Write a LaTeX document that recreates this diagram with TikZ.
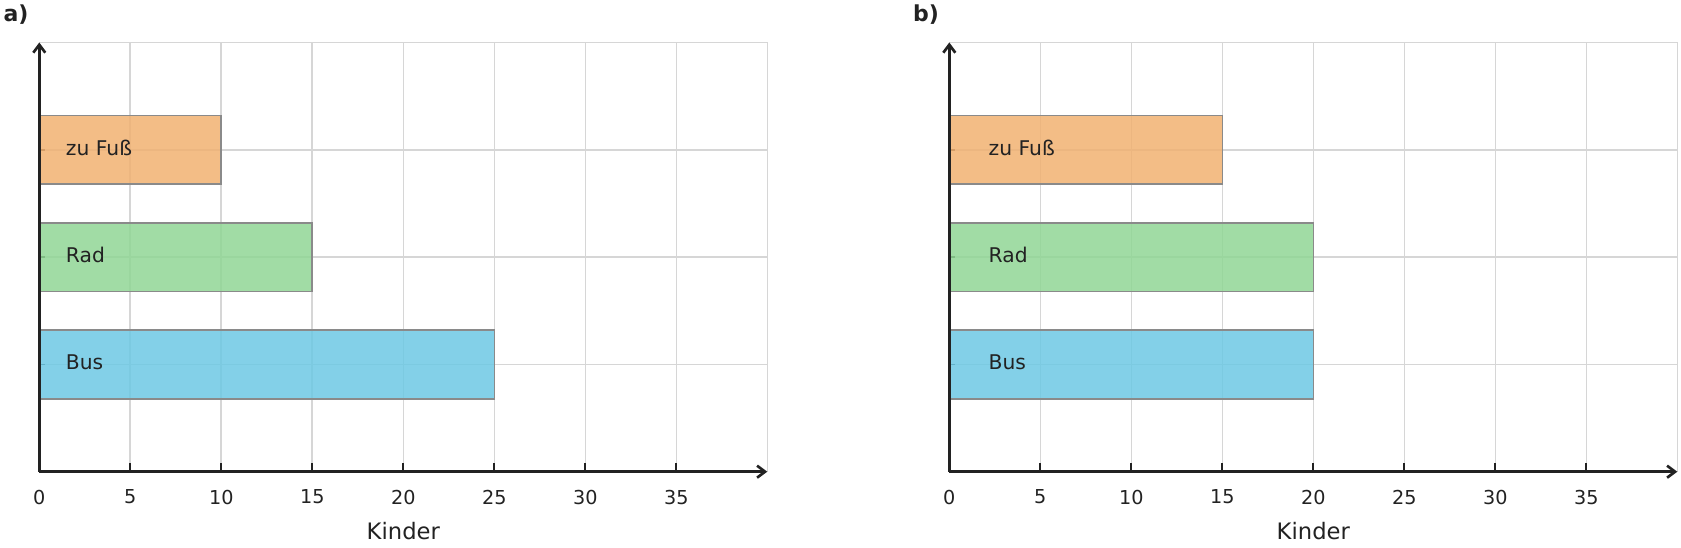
\documentclass[tikz,border=0pt]{standalone}
\usepackage{fontspec}
\setmainfont{DejaVu Sans}
\usetikzlibrary{arrows.meta}
\definecolor{fusscol}{HTML}{F1B171}
\definecolor{radcol}{HTML}{90D695}
\definecolor{buscol}{HTML}{6DC8E4}
\definecolor{gridcol}{HTML}{D6D6D6}
\definecolor{axiscol}{HTML}{222222}
\definecolor{edgecol}{HTML}{8A8A8A}
\tikzset{
  gridline/.style={gridcol,line width=1.2pt},
  axisline/.style={axiscol,line width=2pt,-{Straight Barb[length=6pt,width=9pt,line width=2pt]}},
  barbox/.style={draw=edgecol,line width=1.2pt,fill opacity=0.85},
  barlabel/.style={font=\fontsize{15.2}{18}\selectfont,anchor=west,text=axiscol,inner sep=0pt},
  ticklabel/.style={font=\fontsize{14.4}{17}\selectfont,text=axiscol,inner sep=0pt},
}
\begin{document}
\begin{tikzpicture}[x=13.65pt,y=80.475pt]
    \useasboundingbox (-2.159,-0.711) rectangle (90.203,4.396);
    \foreach \off/\lab/\fuss/\rad/\bus/\lx in {0/a/10/15/25/1.45,50/b/15/20/20/2.15}{
        \begin{scope}[shift={(\off,0)}]
            \coordinate (o\lab) at (0,0);
            % grid
            \foreach \x in {5,10,...,40}
                \draw[gridline] (\x,0) -- (\x,4);
            \foreach \y in {1,2,3,4}
                \draw[gridline] (0,\y) -- (40,\y);
            \foreach \y in {1,2,3}
                \draw[axiscol,line width=1.2pt] (0,\y) -- (0.3,\y);
            % bars
            \draw[barbox,fill=fusscol] (0,2.68) rectangle (\fuss,3.32);
            \draw[barbox,fill=radcol] (0,1.68) rectangle (\rad,2.32);
            \draw[barbox,fill=buscol] (0,0.68) rectangle (\bus,1.32);
            \node[barlabel] (fuss\lab) at (\lx,3.02) {zu Fuß};
            \node[barlabel] (rad\lab) at (\lx,2.02) {Rad};
            \node[barlabel] (bus\lab) at (\lx,1.02) {Bus};
            % axes
            \coordinate (xend\lab) at (40,0);
            \coordinate (yend\lab) at (0,4);
            \draw[axisline] (o\lab) -- (xend\lab);
            \draw[axisline] (o\lab) -- (yend\lab);
            \foreach \x in {0,5,...,35}{
                \draw[axiscol,line width=1.4pt] (\x,0) -- (\x,0.084);
                \node[ticklabel] (t\lab\x) at (\x,-0.236) {\x};
            }
            \node[font=\fontsize{17}{20}\selectfont,text=axiscol,inner sep=0pt] (kinder\lab) at (20,-0.553) {Kinder};
            \node[font=\bfseries\fontsize{16.5}{19}\selectfont,text=axiscol,inner sep=0pt] (titel\lab) at (-1.28,4.256) {\lab)};
        \end{scope}
    }
\end{tikzpicture}
\end{document}
